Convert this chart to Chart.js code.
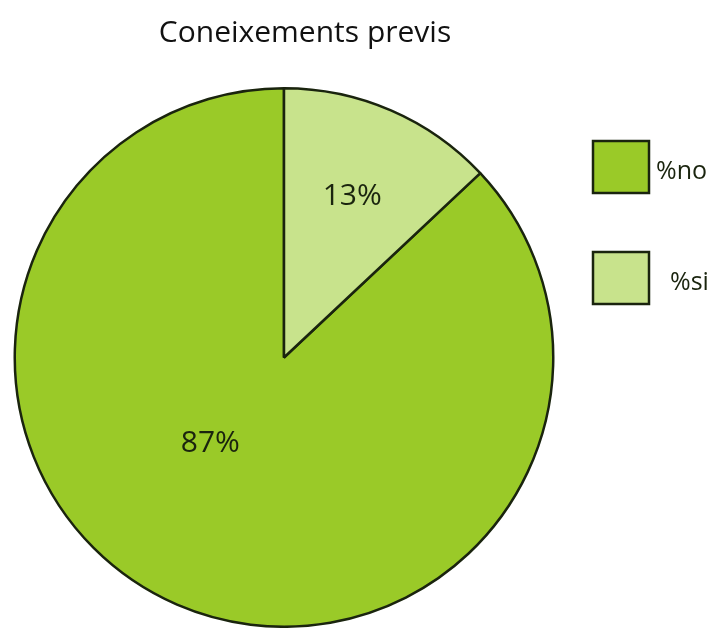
<!DOCTYPE html>
<html>
<head>
<meta charset="utf-8">
<script src="https://cdn.jsdelivr.net/npm/chart.js@4/dist/chart.umd.min.js"></script>
<style>
  html, body { margin: 0; padding: 0; background: #fff; }
  #wrap { width: 714px; height: 628px; }
</style>
</head>
<body>
<div id="wrap"><canvas id="pie-chart" width="714" height="628"></canvas></div>
<script>
const chartTitle = 'Coneixements previs';
const labels = ['%no', '%si'];
const values = [87, 13];
const sliceColors = ['#9aca28', '#c8e38c'];

// where each percentage label sits inside its slice (fraction of angle, fraction of radius)
const labelSpots = [[0.555, 0.42], [0.49, 0.65]];
// legend layout: box x/y and text x for each entry
const legendBoxes = [[593, 141], [593, 252]];
const legendTextX = [656, 670];

const inkColor = '#1a240e';

const overlay = {
    id: 'overlay',
    afterDraw(chart) {
        const ctx = chart.ctx;
        ctx.save();
        ctx.fillStyle = '#111';
        ctx.font = '30px "Open Sans"';
        ctx.textAlign = 'center';
        ctx.textBaseline = 'middle';
        ctx.fillText(chartTitle, 305, 33);

        const total = values.reduce((a, b) => a + b, 0);
        const arcs = chart.getDatasetMeta(0).data;
        ctx.fillStyle = inkColor;
        ctx.font = '30px "Open Sans"';
        arcs.forEach((arc, i) => {
            const p = arc.getProps(['x', 'y', 'startAngle', 'endAngle', 'outerRadius'], true);
            const a = p.startAngle + (p.endAngle - p.startAngle) * labelSpots[i][0];
            const r = p.outerRadius * labelSpots[i][1];
            const pct = Math.round(values[i] / total * 100) + '%';
            ctx.fillText(pct, p.x + Math.cos(a) * r, p.y + Math.sin(a) * r);
        });

        ctx.textAlign = 'left';
        ctx.font = '25px "Open Sans"';
        labels.forEach((lab, i) => {
            const [bx, by] = legendBoxes[i];
            ctx.fillStyle = sliceColors[i];
            ctx.fillRect(bx, by, 56, 52);
            ctx.lineWidth = 2.5;
            ctx.strokeStyle = inkColor;
            ctx.strokeRect(bx, by, 56, 52);
            ctx.fillStyle = inkColor;
            ctx.fillText(lab, legendTextX[i], by + 31);
        });
        ctx.restore();
    }
};

new Chart(document.getElementById('pie-chart').getContext('2d'), {
    type: 'pie',
    data: {
        labels: labels,
        datasets: [{
            data: values,
            backgroundColor: sliceColors,
            borderColor: inkColor,
            borderWidth: 2.5
        }]
    },
    options: {
        responsive: false,
        animation: false,
        rotation: values[1] / 100 * 360,
        layout: { padding: { left: 13, right: 159, top: 87, bottom: 0 } },
        plugins: {
            legend: { display: false },
            title: { display: false },
            tooltip: { enabled: false }
        }
    },
    plugins: [overlay]
});
</script>
</body>
</html>
